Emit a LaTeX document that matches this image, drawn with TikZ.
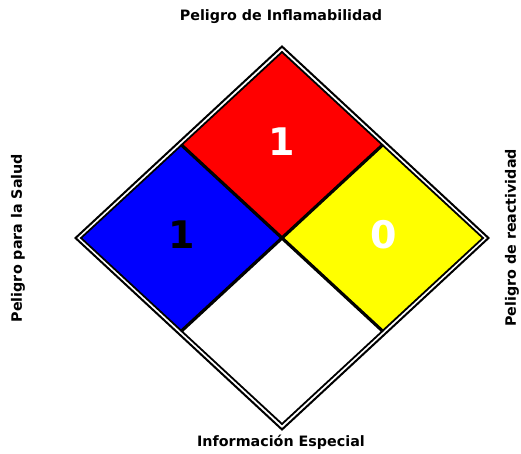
\documentclass[tikz,border=0pt]{standalone}
\usepackage{fontspec}
\setmainfont{DejaVu Sans}
\definecolor{pureyellow}{RGB}{255,255,0}
\definecolor{purered}{RGB}{255,0,0}
\definecolor{pureblue}{RGB}{0,0,255}
\begin{document}
\begin{tikzpicture}[x=1pt,y=1pt,
  quad/.style={draw=black,line width=1.8pt,line join=miter},
  label/.style={font=\bfseries\fontsize{14.3}{16}\selectfont,text=black,inner sep=0pt},
  num/.style={font=\bfseries\fontsize{38}{40}\selectfont,inner sep=0pt}]
\useasboundingbox (0,0) rectangle (521,-453);
\def\cx{282}\def\cy{-238}
\def\a{101}\def\b{93.5}
% outer diamond
\draw[line width=2pt,line join=miter] (\cx,\cy+191.5) -- (\cx+206.5,\cy) -- (\cx,\cy-191.5) -- (\cx-206.5,\cy) -- cycle;
% quadrants (inset slightly)
\begin{scope}[shift={(\cx,\cy)}]
\draw[quad,fill=purered]    (0,2*\b-1) -- (\a-1,\b) -- (0,1) -- (-\a+1,\b) -- cycle;
\draw[quad,fill=pureblue]   (-\a,\b-1) -- (-1,0) -- (-\a,-\b+1) -- (-2*\a+1,0) -- cycle;
\draw[quad,fill=pureyellow] (\a,\b-1) -- (2*\a-1,0) -- (\a,-\b+1) -- (1,0) -- cycle;
\draw[quad,fill=white]  (0,-1) -- (\a-1,-\b) -- (0,-2*\b+1) -- (-\a+1,-\b) -- cycle;
\node[num,text=white] (nf) at (0,\b+3) {1};
\node[num,text=black] (nh) at (-\a+1,3) {1};
\node[num,text=white] (nr) at (\a+1,3) {0};
\end{scope}
\node[label] (top) at (281,-17) {Peligro de Inflamabilidad};
\node[label] (bot) at (281,-442) {Información Especial};
\node[label,rotate=90] (left) at (18,-238) {Peligro para la Salud};
\node[label,rotate=90] (right) at (512,-238) {Peligro de reactividad};
\end{tikzpicture}
\end{document}
